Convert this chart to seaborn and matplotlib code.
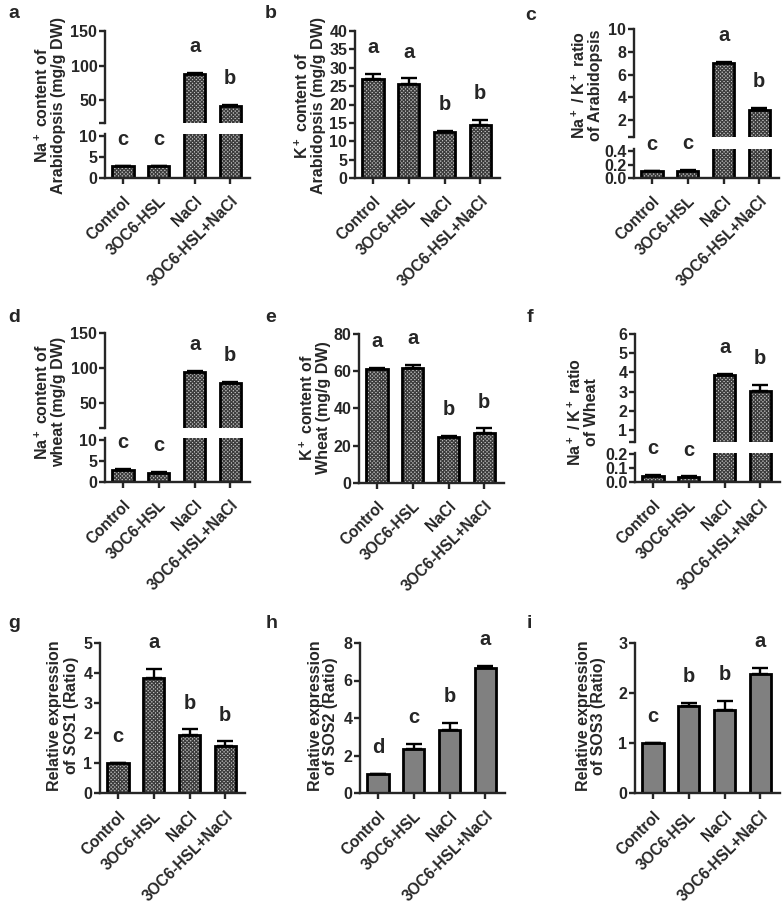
import numpy as np
import pandas as pd
import matplotlib
matplotlib.use("Agg")
import matplotlib.pyplot as plt
import seaborn as sns

groups = ["Control", "3OC6-HSL", "NaCl", "3OC6-HSL+NaCl"]

# a: Na+ content of Arabidopsis
na_arab = [2.8, 2.8, 88.0, 42.0]
na_arab_err = [0.1, 0.1, 1.2, 1.0]
na_arab_sig = ["c", "c", "a", "b"]
# b: K+ content of Arabidopsis
k_arab = [26.9, 25.6, 12.5, 14.4]
k_arab_err = [1.3, 1.5, 0.4, 1.5]
k_arab_sig = ["a", "a", "b", "b"]
# c: Na+/K+ ratio Arabidopsis
ratio_arab = [0.10, 0.10, 7.0, 2.9]
ratio_arab_err = [0.01, 0.02, 0.1, 0.15]
ratio_arab_sig = ["c", "c", "a", "b"]
# d: Na+ content of wheat
na_wheat = [2.8, 2.2, 94.0, 79.0]
na_wheat_err = [0.4, 0.2, 1.5, 1.0]
na_wheat_sig = ["c", "c", "a", "b"]
# e: K+ content of wheat
k_wheat = [61.0, 62.0, 24.5, 27.0]
k_wheat_err = [0.7, 1.2, 0.8, 2.3]
k_wheat_sig = ["a", "a", "b", "b"]
# f: Na+/K+ ratio wheat
ratio_wheat = [0.045, 0.036, 3.88, 3.05]
ratio_wheat_err = [0.005, 0.004, 0.05, 0.3]
ratio_wheat_sig = ["c", "c", "a", "b"]
# g-i: relative expression
sos1 = [1.0, 3.85, 1.95, 1.58]
sos1_err = [0.0, 0.28, 0.17, 0.14]
sos1_sig = ["c", "a", "b", "b"]
sos2 = [1.0, 2.35, 3.35, 6.65]
sos2_err = [0.0, 0.25, 0.38, 0.15]
sos2_sig = ["d", "c", "b", "a"]
sos3 = [1.0, 1.75, 1.66, 2.39]
sos3_err = [0.0, 0.06, 0.19, 0.11]
sos3_sig = ["c", "b", "b", "a"]

sns.set_style("ticks")
plt.rcParams["font.family"] = ["Liberation Sans", "DejaVu Sans"]
plt.rcParams["font.weight"] = "bold"
plt.rcParams["mathtext.fontset"] = "custom"
plt.rcParams["mathtext.rm"] = "Liberation Sans:bold"
plt.rcParams["mathtext.bf"] = "Liberation Sans:bold"
plt.rcParams["mathtext.it"] = "Liberation Sans:bold:italic"
plt.rcParams["mathtext.default"] = "bf"
plt.rcParams["hatch.linewidth"] = 0.9

W, H = 784, 906
fig = plt.figure(figsize=(W / 100, H / 100), dpi=100)


def px_axes(x0, y0, x1, y1):
    return fig.add_axes([x0 / W, 1 - y1 / H, (x1 - x0) / W, (y1 - y0) / H])


def draw_bars(ax, vals, errs, sig, ylim, ticks, textured, show_x=True,
              fmt=None, sig_ok=None):
    df = pd.DataFrame({"group": groups, "value": vals})
    if textured:
        sns.barplot(data=df, x="group", y="value", order=groups, color="#c4c4c4",
                    width=0.6, errorbar=None, ax=ax, linewidth=0, saturation=1)
        for p in ax.patches:
            p.set_hatch("xxxxxxxxx")
            p.set_edgecolor("#3c3c3c")
    else:
        sns.barplot(data=df, x="group", y="value", order=groups, color="#808080",
                    width=0.6, errorbar=None, ax=ax, linewidth=0, saturation=1)
    sns.barplot(data=df, x="group", y="value", order=groups, color="black",
                fill=False, width=0.6, errorbar=None, ax=ax, linewidth=2.0)
    xs = np.arange(len(groups))
    ax.errorbar(xs, vals, yerr=[np.zeros(len(vals)), errs], fmt="none",
                ecolor="black", elinewidth=1.7, capsize=5.5, capthick=1.7)
    ax.set_xlim(-0.5, 3.55)
    ax.set_ylim(*ylim)
    ax.set_yticks(ticks)
    if fmt:
        ax.set_yticklabels([fmt.format(t) for t in ticks])
    ax.set_xlabel("")
    ax.set_ylabel("")
    for s in ["top", "right"]:
        ax.spines[s].set_visible(False)
    for s in ["left", "bottom"]:
        ax.spines[s].set_linewidth(1.7)
    ax.tick_params(axis="y", width=1.7, length=4, labelsize=11.5, pad=1.5)
    if show_x:
        ax.set_xticks(xs)
        ax.tick_params(axis="x", width=1.7, length=4, pad=7)
        ax.set_xticklabels(groups, rotation=45, ha="right", rotation_mode="anchor",
                           fontsize=11.2, fontweight="bold")
    else:
        ax.spines["bottom"].set_visible(False)
        ax.tick_params(axis="x", bottom=False, labelbottom=False)
        ax.set_yticks([ylim[0]], minor=True)
        ax.tick_params(axis="y", which="minor", width=1.7, length=4)
    for lab in ax.get_yticklabels():
        lab.set_fontweight("bold")
    for i, (v, e, s) in enumerate(zip(vals, errs, sig)):
        top = v + e
        if sig_ok is not None and not sig_ok(top):
            continue
        ax.annotate(s, (i, top), xytext=(0, 19), textcoords="offset points",
                    ha="center", va="center", fontsize=14.5, fontweight="bold",
                    annotation_clip=False)


def broken(x0, x1, y_top, y_brk, y_low_top, y_bot, vals, errs, sig,
           up_lim, up_ticks, low_lim, low_ticks, fmt=None):
    up = px_axes(x0, y_top, x1, y_brk)
    low = px_axes(x0, y_low_top, x1, y_bot)
    draw_bars(up, vals, errs, sig, up_lim, up_ticks, True, show_x=False,
              sig_ok=lambda t: t > low_lim[1])
    draw_bars(low, vals, errs, sig, low_lim, low_ticks, True, fmt=fmt,
              sig_ok=lambda t: t <= low_lim[1])
    return up, low


# row 1
broken(105, 250, 31, 123, 134, 178, na_arab, na_arab_err, na_arab_sig,
       (17, 150), [50, 100, 150], (0, 10.5), [0, 5, 10])
ax_b = px_axes(355, 31, 500, 178)
draw_bars(ax_b, k_arab, k_arab_err, k_arab_sig, (0, 40), list(range(0, 45, 5)), True)
broken(634, 779, 29, 137, 149, 178, ratio_arab, ratio_arab_err, ratio_arab_sig,
       (0.53, 10), [2, 4, 6, 8, 10], (0, 0.43), [0.0, 0.2, 0.4], fmt="{:.1f}")

# row 2
broken(105, 250, 333, 428, 438, 482, na_wheat, na_wheat_err, na_wheat_sig,
       (14, 150), [50, 100, 150], (0, 10.5), [0, 5, 10])
ax_e = px_axes(359, 334, 504, 483)
draw_bars(ax_e, k_wheat, k_wheat_err, k_wheat_sig, (0, 80), [0, 20, 40, 60, 80], True)
broken(635, 780, 334, 442, 453, 482, ratio_wheat, ratio_wheat_err, ratio_wheat_sig,
       (0.375, 6), [1, 2, 3, 4, 5, 6], (0, 0.21), [0.0, 0.1, 0.2], fmt="{:.1f}")

# row 3
ax_g = px_axes(100, 643, 245, 793)
draw_bars(ax_g, sos1, sos1_err, sos1_sig, (0, 5), [0, 1, 2, 3, 4, 5], True)
ax_h = px_axes(360, 643, 505, 793)
draw_bars(ax_h, sos2, sos2_err, sos2_sig, (0, 8), [0, 2, 4, 6, 8], False)
ax_i = px_axes(635, 643, 780, 793)
draw_bars(ax_i, sos3, sos3_err, sos3_sig, (0, 3), [0, 1, 2, 3], False)

# y labels
ylabels = [
    (50, 105, "Na$^+$ content of\nArabidopsis (mg/g DW)"),
    (310, 106, "K$^+$ content of\nArabidopsis (mg/g DW)"),
    (587, 85, "Na$^+$ / K$^+$ ratio\nof Arabidopsis"),
    (50, 402, "Na$^+$ content of\nwheat (mg/g DW)"),
    (315, 408, "K$^+$ content of\nWheat (mg/g DW)"),
    (583, 412, "Na$^+$ / K$^+$ ratio\nof Wheat"),
    (64, 716, "Relative expression\nof $\\mathit{SOS1}$ (Ratio)"),
    (323, 716, "Relative expression\nof SOS2 (Ratio)"),
    (591, 716, "Relative expression\nof SOS3 (Ratio)"),
]
for x, y, t in ylabels:
    fig.text(x / W, 1 - y / H, t, rotation=90, ha="center", va="center",
             fontsize=11.5, fontweight="bold", linespacing=1.05, multialignment="center")

# panel letters
for x, y, t in [(8, 13, "a"), (265, 13, "b"), (525, 15, "c"),
                (8, 317, "d"), (265, 317, "e"), (527, 317, "f"),
                (8, 623, "g"), (266, 623, "h"), (527, 623, "i")]:
    fig.text(x / W, 1 - y / H, t, ha="left", va="center", fontsize=14, fontweight="bold")

fig.savefig("out.png", dpi=100)
